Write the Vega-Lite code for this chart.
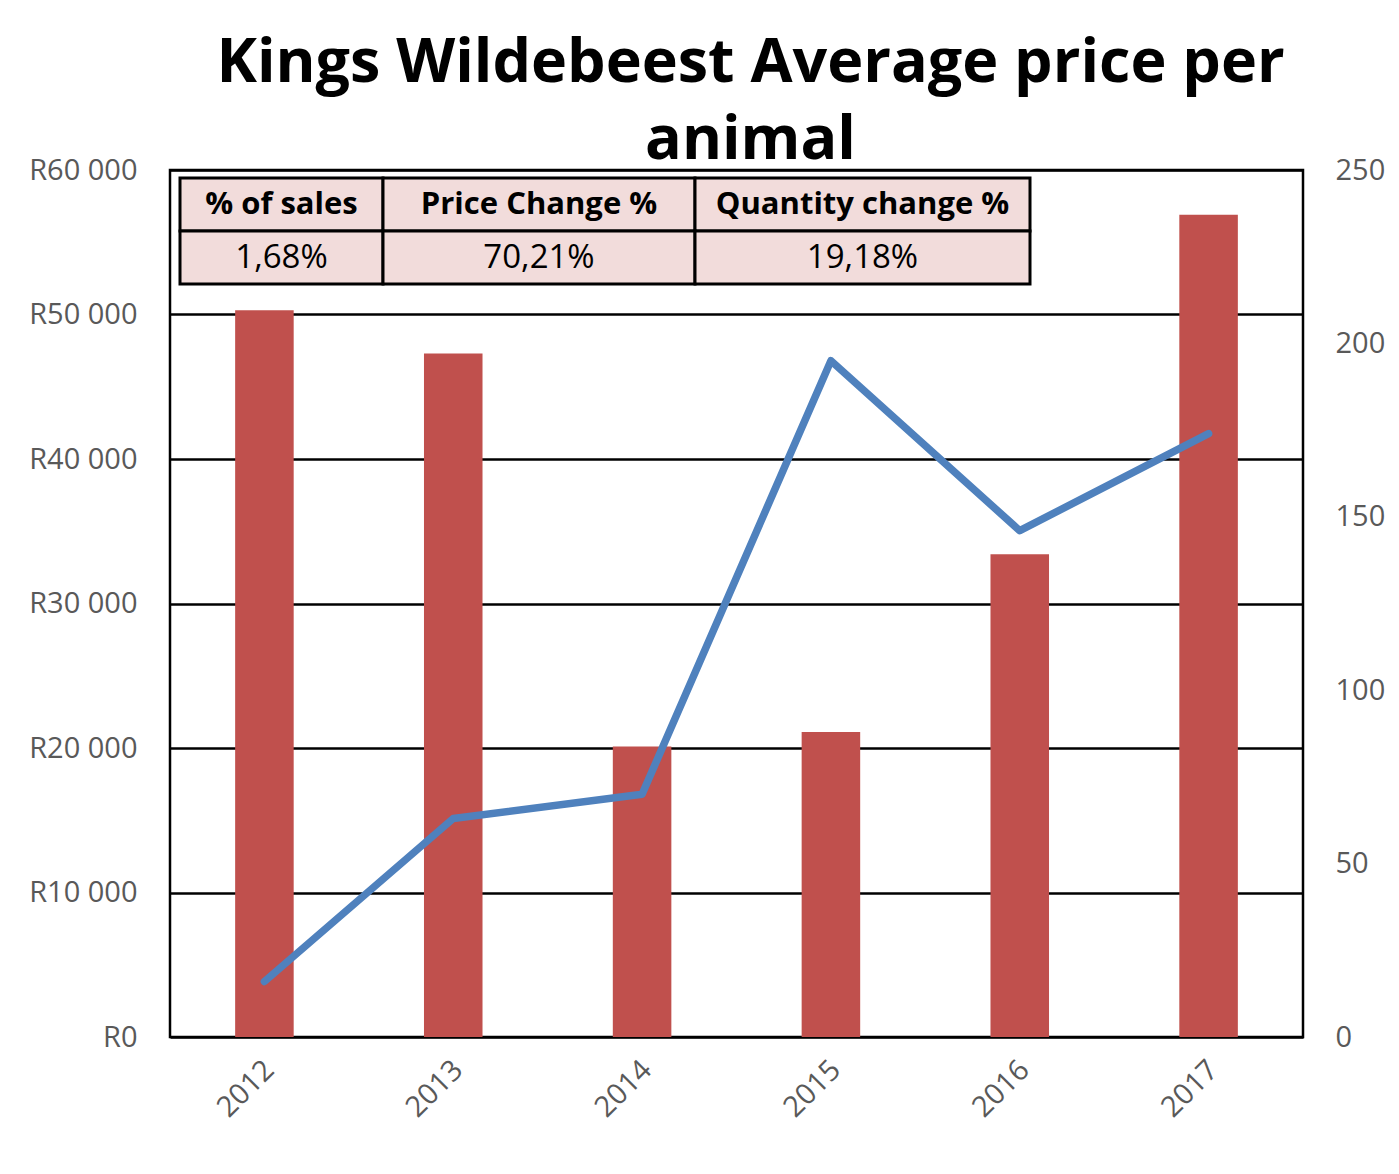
{
  "$schema": "https://vega.github.io/schema/vega-lite/v6.json",
  "autosize": {"type": "none"},
  "padding": {"left": 170, "top": 170, "right": 96, "bottom": 137},
  "width": 1133,
  "height": 867,
  "background": "white",
  "config": {
    "view": {"stroke": "black", "strokeWidth": 2.5},
    "font": "Open Sans"
  },
  "title": {
    "text": ["Kings Wildebeest Average price per", "animal"],
    "font": "Open Sans",
    "fontWeight": "bold",
    "fontSize": 61,
    "color": "black",
    "lineHeight": 77,
    "anchor": "middle",
    "baseline": "alphabetic",
    "dx": 14,
    "dy": 74,
    "offset": 10
  },
  "datasets": {
    "sales": [
      {"year": "2012", "price": 50300, "animals": 16},
      {"year": "2013", "price": 47300, "animals": 63},
      {"year": "2014", "price": 20100, "animals": 70},
      {"year": "2015", "price": 21100, "animals": 195},
      {"year": "2016", "price": 33400, "animals": 146},
      {"year": "2017", "price": 56900, "animals": 174}
    ],
    "summary": [
      {"kind": "head", "text": "% of sales", "c0": 0, "c1": 1, "cm": 0.5, "r0": 0, "r1": 1},
      {"kind": "head", "text": "Price Change %", "c0": 1, "c1": 2, "cm": 1.5, "r0": 0, "r1": 1},
      {"kind": "head", "text": "Quantity change %", "c0": 2, "c1": 3, "cm": 2.5, "r0": 0, "r1": 1},
      {"kind": "value", "text": "1,68%", "c0": 0, "c1": 1, "cm": 0.5, "r0": 1, "r1": 2},
      {"kind": "value", "text": "70,21%", "c0": 1, "c1": 2, "cm": 1.5, "r0": 1, "r1": 2},
      {"kind": "value", "text": "19,18%", "c0": 2, "c1": 3, "cm": 2.5, "r0": 1, "r1": 2}
    ]
  },
  "layer": [
    {
      "data": {"name": "sales"},
      "mark": {"type": "bar", "color": "#c0504d"},
      "encoding": {
        "x": {
          "field": "year", "type": "nominal",
          "scale": {"paddingInner": 0.69, "paddingOuter": 0.345},
          "axis": {
            "title": null, "labelAngle": -45, "labelFontSize": 29, "labelFont": "Open Sans",
            "labelColor": "#595959", "ticks": false, "domain": false, "labelPadding": 18, "labelOffset": -5
          }
        },
        "y": {
          "field": "price", "type": "quantitative",
          "scale": {"domain": [0, 60000], "nice": false},
          "axis": {
            "title": null, "values": [0, 10000, 20000, 30000, 40000, 50000, 60000],
            "labelExpr": "'R' + replace(format(datum.value, ','), /,/g, ' ')",
            "labelFontSize": 29, "labelFont": "Open Sans", "labelColor": "#595959",
            "ticks": false, "domain": false, "labelPadding": 33,
            "grid": true, "gridColor": "black", "gridWidth": 2.5, "gridOpacity": 1
          }
        }
      }
    },
    {
      "data": {"name": "sales"},
      "mark": {"type": "line", "color": "#4f81bd", "strokeWidth": 7.5, "strokeCap": "round", "strokeJoin": "round"},
      "encoding": {
        "x": {
          "field": "year", "type": "nominal",
          "scale": {"paddingInner": 0.69, "paddingOuter": 0.345},
          "axis": null
        },
        "y": {
          "field": "animals", "type": "quantitative",
          "scale": {"domain": [0, 250], "nice": false},
          "axis": {
            "orient": "right", "title": null, "values": [0, 50, 100, 150, 200, 250],
            "labelFontSize": 29, "labelFont": "Open Sans", "labelColor": "#595959",
            "ticks": false, "domain": false, "labelPadding": 32, "grid": false
          }
        }
      }
    },
    {
      "data": {"name": "summary"},
      "mark": {"type": "rect", "fill": "#f2dcdb", "stroke": "black", "strokeWidth": 3},
      "encoding": {
        "x": {"field": "c0", "type": "quantitative", "scale": {"domain": [0, 1, 2, 3], "range": [10, 213, 525, 860], "zero": false, "nice": false}, "axis": null},
        "x2": {"field": "c1"},
        "y": {"field": "r0", "type": "quantitative", "scale": {"domain": [0, 1, 2], "range": [8, 61, 114], "zero": false, "nice": false}, "axis": null},
        "y2": {"field": "r1"}
      }
    },
    {
      "data": {"name": "summary"},
      "transform": [{"filter": "datum.kind === 'head'"}],
      "mark": {"type": "text", "font": "Open Sans", "fontWeight": "bold", "fontSize": 31, "color": "black", "baseline": "middle", "align": "center", "dy": 27},
      "encoding": {
        "x": {"field": "cm", "type": "quantitative", "scale": {"domain": [0, 1, 2, 3], "range": [10, 213, 525, 860], "zero": false, "nice": false}, "axis": null},
        "y": {"field": "r0", "type": "quantitative", "scale": {"domain": [0, 1, 2], "range": [8, 61, 114], "zero": false, "nice": false}, "axis": null},
        "text": {"field": "text"}
      }
    },
    {
      "data": {"name": "summary"},
      "transform": [{"filter": "datum.kind === 'value'"}],
      "mark": {"type": "text", "font": "Open Sans", "fontSize": 33, "color": "black", "baseline": "middle", "align": "center", "dy": 27},
      "encoding": {
        "x": {"field": "cm", "type": "quantitative", "scale": {"domain": [0, 1, 2, 3], "range": [10, 213, 525, 860], "zero": false, "nice": false}, "axis": null},
        "y": {"field": "r0", "type": "quantitative", "scale": {"domain": [0, 1, 2], "range": [8, 61, 114], "zero": false, "nice": false}, "axis": null},
        "text": {"field": "text"}
      }
    }
  ],
  "resolve": {"scale": {"x": "independent", "y": "independent"}}
}
